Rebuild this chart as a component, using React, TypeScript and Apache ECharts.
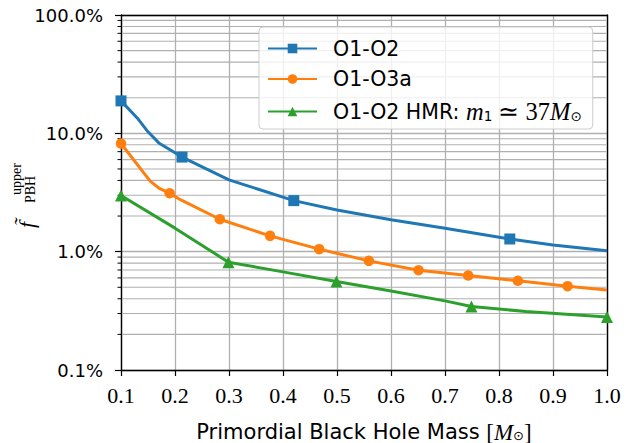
import React, { useEffect, useRef } from "react";
import * as echarts from "echarts";

// ---- data (percent) ----
const blueX = [0.1, 0.13, 0.15, 0.17, 0.213, 0.3, 0.42, 0.5, 0.6, 0.7, 0.82, 0.9, 1.0];
const blueY = [18.8, 13.5, 10.3, 8.3, 6.3, 4.04, 2.7, 2.25, 1.86, 1.58, 1.28, 1.14, 1.02];
const blueMarks = [true, false, false, false, true, false, true, false, false, false, true, false, false];

const orangeX = [0.1, 0.154, 0.17, 0.19, 0.21, 0.283, 0.376, 0.467, 0.559, 0.651, 0.743, 0.835, 0.927, 1.0];
const orangeY = [8.2, 3.95, 3.45, 3.12, 2.75, 1.88, 1.36, 1.05, 0.836, 0.697, 0.628, 0.567, 0.511, 0.475];
const orangeMarks = [true, false, false, true, false, true, true, true, true, true, true, true, true, false];

const greenX = [0.1, 0.2, 0.299, 0.4, 0.499, 0.6, 0.7, 0.749, 0.85, 1.0];
const greenY = [2.98, 1.58, 0.815, 0.675, 0.56, 0.465, 0.384, 0.344, 0.312, 0.28];
const greenMarks = [true, false, true, false, true, false, false, true, false, true];

const seriesNames = ["O1-O2", "O1-O3a", "O1-O2 HMR: m1 ≃ 37M⊙"];
const colors = ["#1f77b4", "#ff7f0e", "#2ca02c"];
const symbols = ["rect", "circle", "triangle"];

const minorVals = [0.2, 0.3, 0.4, 0.5, 0.6, 0.7, 0.8, 0.9, 2, 3, 4, 5, 6, 7, 8, 9, 20, 30, 40, 50, 60, 70, 80, 90];

function build(xs: number[], ys: number[], marks: boolean[]) {
  return xs.map((x, i) =>
    marks[i] ? { value: [x, ys[i]] } : { value: [x, ys[i]], symbol: "none" }
  );
}

export default function App() {
  const ref = useRef<HTMLDivElement>(null);
  useEffect(() => {
    if (!ref.current) return;
    const chart = echarts.init(ref.current, null, { renderer: "svg" });
    const sans = "DejaVu Sans";
    const serif = "Liberation Serif";
    const datasets = [
      build(blueX, blueY, blueMarks),
      build(orangeX, orangeY, orangeMarks),
      build(greenX, greenY, greenMarks),
    ];
    const lineSeries = datasets.map((d, i) => ({
      type: "line",
      name: seriesNames[i],
      data: d,
      symbol: symbols[i],
      symbolSize: i === 2 ? 12 : i === 0 ? 11 : 10.5,
      showSymbol: true,
      showAllSymbol: true,
      clip: true,
      z: 3 + i,
      lineStyle: { color: colors[i], width: 3 },
      itemStyle: { color: colors[i] },
    }));
    const vText = (text: string, x: number, y: number, font: string) => ({
      type: "text",
      x,
      y,
      rotation: Math.PI / 2,
      style: {
        text,
        font,
        fill: "#000",
        align: "left",
        verticalAlign: "middle",
        textAlign: "left",
        textVerticalAlign: "middle",
      },
    });
    chart.setOption({
      animation: false,
      grid: {
        left: 121,
        right: 27,
        top: 15,
        bottom: 73,
        show: false,
        containLabel: false,
        outerBoundsMode: "none",
      },
      xAxis: [
        {
          type: "value",
          min: 0.1,
          max: 1.0,
          interval: 0.1,
          axisLine: { show: true, onZero: false, lineStyle: { color: "#000", width: 1.4 } },
          axisTick: { show: true, length: 6, inside: false, lineStyle: { color: "#000", width: 1.2 } },
          axisLabel: {
            formatter: (v: number) => v.toFixed(1),
            fontFamily: serif,
            fontSize: 22,
            color: "#000",
            margin: 14,
          },
          splitLine: { show: true, lineStyle: { color: "#b0b0b0", width: 1.3 } },
          name: "{t|Primordial Black Hole Mass }{m|[}{i|M}{s|⊙}{m|]}",
          nameLocation: "middle",
          nameGap: 52,
          nameTextStyle: {
            lineHeight: 20,
            rich: {
              t: { fontFamily: sans, fontSize: 21, color: "#000", lineHeight: 20 },
              m: { fontFamily: serif, fontSize: 23, color: "#000", lineHeight: 20 },
              i: { fontFamily: serif, fontStyle: "italic", fontSize: 23, color: "#000", lineHeight: 20 },
              s: { fontFamily: "DejaVu Sans", fontSize: 13, color: "#000", lineHeight: 9, verticalAlign: "bottom" },
            },
          },
        },
        {
          type: "value",
          position: "top",
          min: 0.1,
          max: 1.0,
          interval: 0.1,
          axisLine: { show: true, onZero: false, lineStyle: { color: "#000", width: 1.4 } },
          axisTick: { show: false },
          axisLabel: { show: false },
          splitLine: { show: false },
        },
      ],
      yAxis: [
        {
          type: "log",
          logBase: 10,
          min: 0.1,
          max: 100,
          axisLine: { show: true, onZero: false, lineStyle: { color: "#000", width: 1.4 } },
          axisTick: { show: true, length: 6, inside: false, lineStyle: { color: "#000", width: 1.2 } },
          axisLabel: {
            formatter: (v: number) => v.toFixed(1) + "%",
            fontFamily: sans,
            fontSize: 18,
            color: "#000",
            margin: 18,
          },
          splitLine: { show: true, lineStyle: { color: "#b0b0b0", width: 1.3 } },
        },
        {
          type: "log",
          logBase: 10,
          min: 0.1,
          max: 100,
          position: "right",
          axisLine: { show: true, onZero: false, lineStyle: { color: "#000", width: 1.4 } },
          axisTick: { show: false },
          axisLabel: { show: false },
          splitLine: { show: false },
        },
      ],
      legend: {
        orient: "vertical",
        left: 259,
        top: 27,
        itemWidth: 49,
        itemHeight: 12,
        itemGap: 9.5,
        padding: [11, 11, 5, 8],
        backgroundColor: "rgba(255,255,255,0.8)",
        borderColor: "#cccccc",
        borderWidth: 1,
        borderRadius: 4,
        data: seriesNames,
        formatter: (name: string) =>
          name === seriesNames[2]
            ? "{t|O1-O2 HMR: }{i|m}{s|1}{r| ≃ 37}{i|M}{s|⊙}"
            : "{t|" + name + "}",
        textStyle: {
          color: "#000",
          fontFamily: sans,
          fontSize: 20.5,
          lineHeight: 20,
          padding: [0, 0, 0, 11],
          rich: {
            t: { fontFamily: sans, fontSize: 20.5, color: "#000", lineHeight: 20 },
            i: { fontFamily: serif, fontStyle: "italic", fontSize: 24.5, color: "#000", lineHeight: 20 },
            r: { fontFamily: serif, fontSize: 24.5, color: "#000", lineHeight: 20 },
            s: { fontFamily: "DejaVu Sans", fontSize: 13.5, color: "#000", lineHeight: 20, padding: [9, 0, 0, 0] },
          },
        },
      },
      graphic: [
        vText("f̃", 26, 228, "italic 22px 'Liberation Serif'"),
        vText("upper", 16, 195, "14px 'Liberation Serif'"),
        vText("PBH", 30, 203, "14px 'Liberation Serif'"),
      ],
      series: [
        {
          type: "custom",
          name: "minor",
          z: 1,
          silent: true,
          clip: false,
          data: minorVals.map((v) => [0.1, v]),
          encode: { x: 0, y: 1 },
          renderItem: (params: any, api: any) => {
            const p = api.coord([api.value(0), api.value(1)]);
            const cs = params.coordSys;
            return {
              type: "group",
              children: [
                {
                  type: "line",
                  shape: { x1: cs.x + 1, y1: p[1], x2: cs.x + cs.width - 1, y2: p[1] },
                  style: { stroke: "#b0b0b0", lineWidth: 1.1 },
                },
                {
                  type: "line",
                  shape: { x1: cs.x - 3.5, y1: p[1], x2: cs.x, y2: p[1] },
                  style: { stroke: "#000", lineWidth: 1 },
                },
              ],
            };
          },
        },
        ...lineSeries,
      ],
    });
    return () => chart.dispose();
  }, []);
  return (
    <div
      ref={ref}
      style={{ position: "absolute", left: 0, top: 0, width: 634, height: 443, background: "#fff" }}
    />
  );
}
